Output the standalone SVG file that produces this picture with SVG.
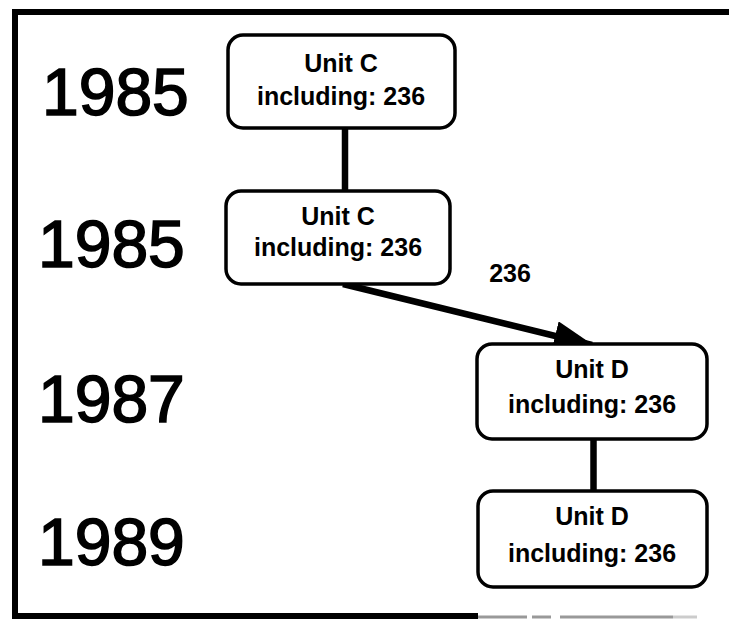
<svg xmlns="http://www.w3.org/2000/svg" width="729" height="619" viewBox="0 0 729 619">
<style>
.frame{stroke:#000;stroke-width:6;fill:none}
.box{fill:#fff;stroke:#000;stroke-width:3.5}
.year{font-family:"Liberation Sans",Arial,sans-serif;font-size:66px;fill:#000;stroke:#000;stroke-width:1.6}
.lbl{font-family:"Liberation Sans",Arial,sans-serif;font-size:25px;font-weight:bold;fill:#000;text-anchor:middle}
.con{stroke:#000;stroke-width:6.5;fill:none}
</style>
<defs>
<marker id="ah" markerUnits="userSpaceOnUse" markerWidth="40" markerHeight="30" refX="38" refY="15" orient="auto">
<path d="M0,0 L40,15 L0,30 Z" fill="#000"/>
</marker>
</defs>
<g id="frame">
<line class="frame" x1="15" y1="12" x2="729" y2="12"/>
<line class="frame" x1="15" y1="9" x2="15" y2="619"/>
<line class="frame" x1="12" y1="616" x2="478" y2="616" stroke-width="5"/>
<line x1="478" y1="617" x2="527" y2="617" stroke="#999" stroke-width="3"/>
<line x1="532" y1="617" x2="551" y2="617" stroke="#999" stroke-width="3"/>
<line x1="560" y1="617" x2="673" y2="617" stroke="#999" stroke-width="3"/>
<line x1="673" y1="617" x2="697" y2="617" stroke="#ccc" stroke-width="3"/>
</g>
<g id="years">
<text class="year" x="42" y="115">1985</text>
<text class="year" x="38" y="267">1985</text>
<text class="year" x="38" y="422">1987</text>
<text class="year" x="38" y="565">1989</text>
</g>
<g id="connectors">
<line class="con" x1="345" y1="127" x2="345" y2="191"/>
<line class="con" x1="343" y1="284" x2="592" y2="345" marker-end="url(#ah)"/>
<line class="con" x1="593.5" y1="439" x2="593.5" y2="492"/>
<text class="lbl" x="510" y="282">236</text>
</g>
<g id="n1">
<rect class="box" x="228" y="35" width="227" height="93" rx="15"/>
<text class="lbl" x="341" y="72">Unit C</text>
<text class="lbl" x="341" y="105">including: 236</text>
</g>
<g id="n2">
<rect class="box" x="226" y="191" width="224" height="93" rx="15"/>
<text class="lbl" x="338" y="225">Unit C</text>
<text class="lbl" x="338" y="256">including: 236</text>
</g>
<g id="n3">
<rect class="box" x="477" y="344" width="230" height="95" rx="15"/>
<text class="lbl" x="592" y="378">Unit D</text>
<text class="lbl" x="592" y="413">including: 236</text>
</g>
<g id="n4">
<rect class="box" x="478" y="491" width="229" height="96" rx="15"/>
<text class="lbl" x="592" y="525">Unit D</text>
<text class="lbl" x="592" y="562">including: 236</text>
</g>
</svg>
